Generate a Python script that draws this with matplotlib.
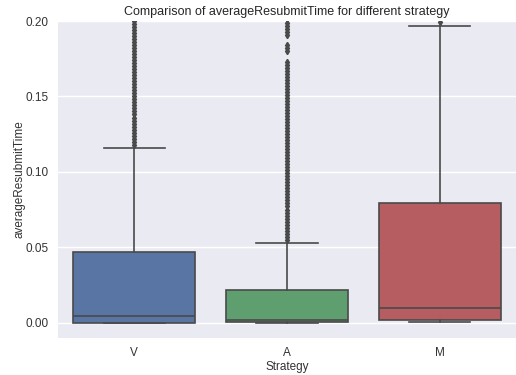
import matplotlib
matplotlib.use("Agg")
import matplotlib.pyplot as plt

# Box statistics
strategies = ["V", "A", "M"]
q1 = [0.0, 0.0003, 0.0017]
medians = [0.0046, 0.0020, 0.0097]
q3 = [0.0467, 0.0214, 0.0791]
whisker_low = [0.0, 0.0, 0.0004]
whisker_high = [0.116, 0.0531, 0.1969]

fliers_v = [0.118, 0.120, 0.122, 0.124, 0.126, 0.128, 0.130, 0.132, 0.134,
            0.136, 0.138, 0.140, 0.142, 0.144, 0.146, 0.148, 0.150, 0.152,
            0.154, 0.156, 0.158, 0.160, 0.162, 0.164, 0.166, 0.168, 0.170,
            0.172, 0.174, 0.176, 0.178, 0.180, 0.182, 0.184, 0.186, 0.188,
            0.190, 0.192, 0.194, 0.196, 0.198, 0.200, 0.205]
fliers_a = [0.055, 0.057, 0.059, 0.061, 0.063, 0.065, 0.067, 0.069, 0.071,
            0.073, 0.075, 0.077, 0.079, 0.081, 0.083, 0.085, 0.087, 0.089,
            0.091, 0.093, 0.095, 0.097, 0.099, 0.101, 0.103, 0.105, 0.107,
            0.109, 0.111, 0.113, 0.115, 0.117, 0.119, 0.121, 0.123, 0.125,
            0.127, 0.129, 0.131, 0.133, 0.135, 0.137, 0.139, 0.141, 0.143,
            0.145, 0.147, 0.149, 0.151, 0.153, 0.155, 0.157, 0.159, 0.161,
            0.163, 0.165, 0.167, 0.169, 0.171, 0.173,
            0.180, 0.182, 0.184,
            0.191, 0.193, 0.195, 0.197, 0.199]
fliers_m = [0.1995]
fliers = [fliers_v, fliers_a, fliers_m]

box_colors = ["#5975a4", "#5f9e6e", "#b55d60"]
line_gray = "#4a4a4a"
text_gray = "#333333"

plt.rcParams["font.family"] = ["Liberation Sans", "DejaVu Sans"]

fig = plt.figure(figsize=(5.16, 3.75), dpi=100)
ax = fig.add_axes([0.1124, 0.0995, 0.8876, 0.8445])
ax.set_facecolor("#EAEAF2")
for s in ax.spines.values():
    s.set_visible(False)
ax.yaxis.grid(True, color="white", linewidth=1.0)
ax.xaxis.grid(False)
ax.set_axisbelow(True)

stats = []
for i, name in enumerate(strategies):
    stats.append({
        "label": name,
        "q1": q1[i],
        "med": medians[i],
        "q3": q3[i],
        "whislo": whisker_low[i],
        "whishi": whisker_high[i],
        "fliers": fliers[i],
    })

lw = 1.2
bp = ax.bxp(stats, positions=range(len(strategies)), widths=0.8,
            patch_artist=True, showfliers=True,
            boxprops=dict(edgecolor=line_gray, linewidth=lw),
            medianprops=dict(color=line_gray, linewidth=lw),
            whiskerprops=dict(color=line_gray, linewidth=lw),
            capprops=dict(color=line_gray, linewidth=lw),
            capwidths=0.4,
            flierprops=dict(marker="d", markersize=3.2, markerfacecolor=line_gray,
                            markeredgecolor=line_gray, linestyle="none"))
for patch, c in zip(bp["boxes"], box_colors):
    patch.set_facecolor(c)

ax.set_xlim(-0.5, 2.5)
ax.set_ylim(-0.01, 0.2)
ax.set_yticks([0.0, 0.05, 0.10, 0.15, 0.20])
ax.set_yticklabels(["0.00", "0.05", "0.10", "0.15", "0.20"])
ax.set_xticks(range(len(strategies)))
ax.set_xticklabels(strategies)
ax.tick_params(axis="y", length=0, labelsize=8.5, labelcolor=text_gray, pad=7)
ax.tick_params(axis="x", length=0, labelsize=8.5, labelcolor=text_gray, pad=7)

ax.set_xlabel("Strategy", fontsize=8.5, color=text_gray, labelpad=1.5)
ax.set_ylabel("averageResubmitTime", fontsize=8.5, color=text_gray, labelpad=0)
ax.set_title("Comparison of averageResubmitTime for different strategy",
             fontsize=9, color="#262626", pad=4)

fig.savefig("out.png", dpi=100)
